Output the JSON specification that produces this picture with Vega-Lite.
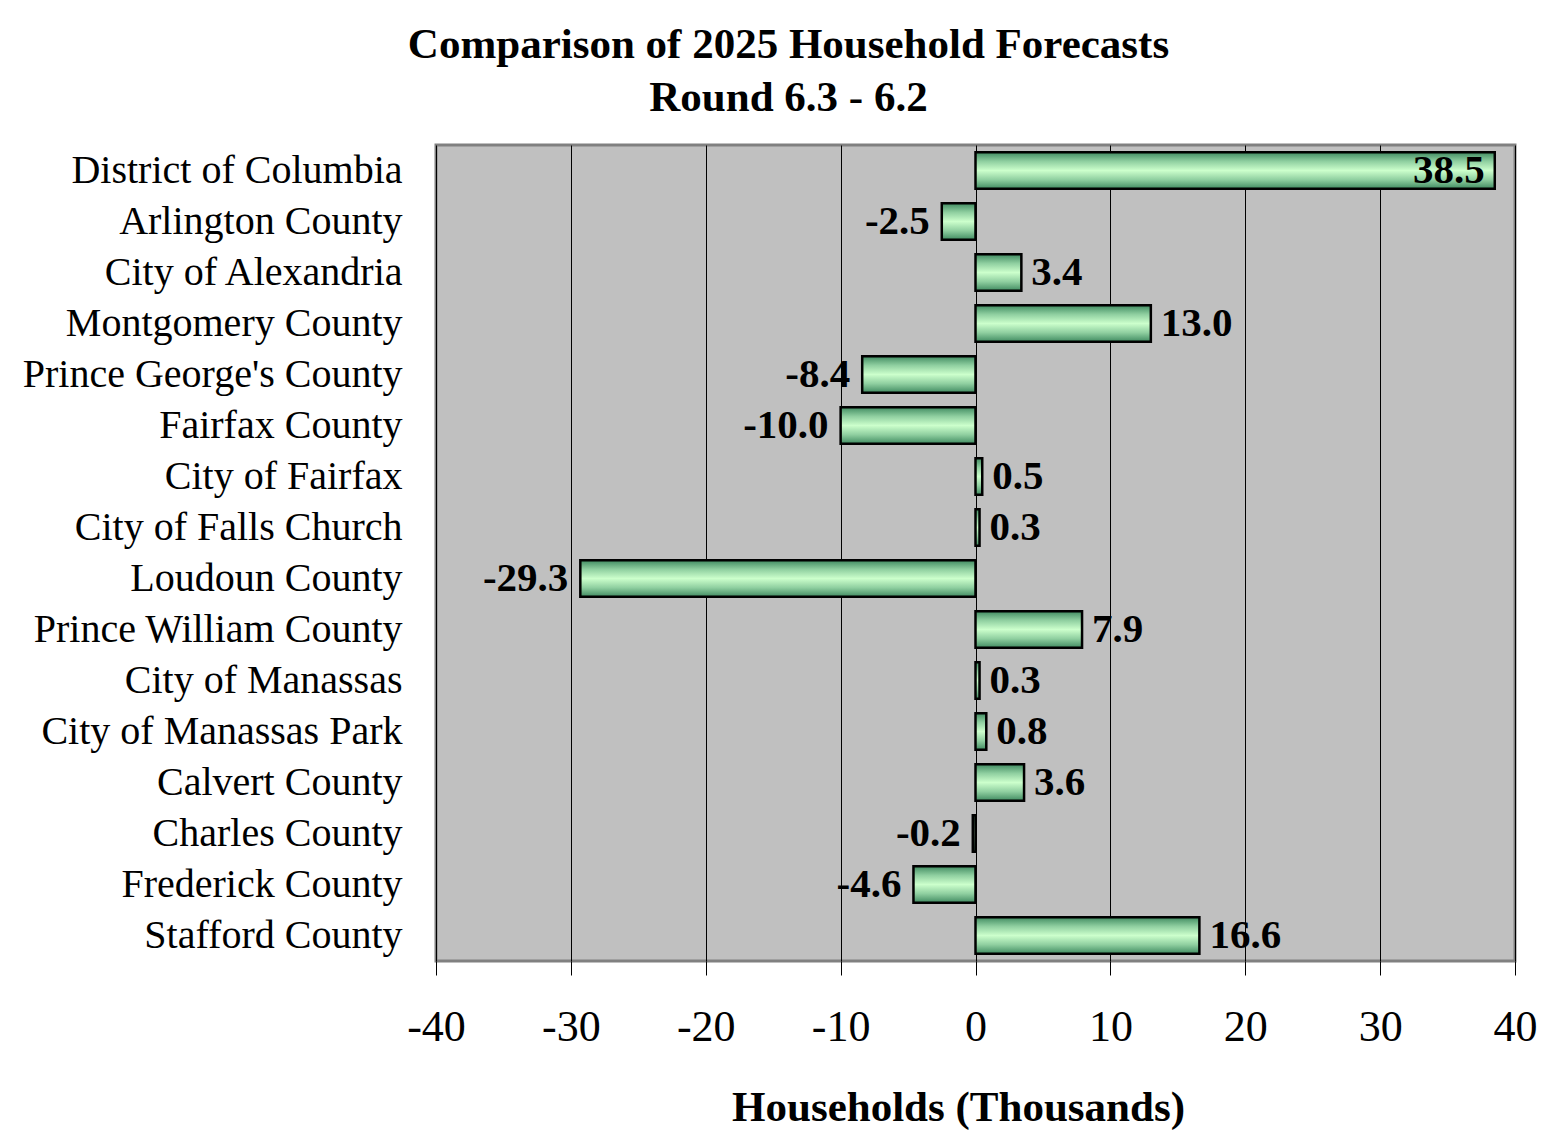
{
  "$schema": "https://vega.github.io/schema/vega-lite/v6.json",
  "autosize": {"type": "none"},
  "width": 1079,
  "height": 816,
  "padding": {"left": 436, "top": 145, "right": 38, "bottom": 185},
  "background": "white",
  "config": {
    "view": {"fill": "#C0C0C0", "stroke": "#808080", "strokeWidth": 3},
    "font": "Liberation Serif",
    "locale": {
      "number": {"decimal": ".", "thousands": ",", "grouping": [3], "currency": ["$", ""], "minus": "-"}
    }
  },
  "title": {
    "text": ["Comparison of 2025 Household Forecasts", "Round 6.3 - 6.2"],
    "font": "Liberation Serif",
    "fontSize": 43,
    "fontWeight": "bold",
    "color": "black",
    "anchor": "middle",
    "frame": "group",
    "dx": -187,
    "lineHeight": 53,
    "offset": 25
  },
  "data": {
    "values": [
      {"jurisdiction": "District of Columbia", "change": 38.5},
      {"jurisdiction": "Arlington County", "change": -2.5},
      {"jurisdiction": "City of Alexandria", "change": 3.4},
      {"jurisdiction": "Montgomery County", "change": 13.0},
      {"jurisdiction": "Prince George's County", "change": -8.4},
      {"jurisdiction": "Fairfax County", "change": -10.0},
      {"jurisdiction": "City of Fairfax", "change": 0.5},
      {"jurisdiction": "City of Falls Church", "change": 0.3},
      {"jurisdiction": "Loudoun County", "change": -29.3},
      {"jurisdiction": "Prince William County", "change": 7.9},
      {"jurisdiction": "City of Manassas", "change": 0.3},
      {"jurisdiction": "City of Manassas Park", "change": 0.8},
      {"jurisdiction": "Calvert County", "change": 3.6},
      {"jurisdiction": "Charles County", "change": -0.2},
      {"jurisdiction": "Frederick County", "change": -4.6},
      {"jurisdiction": "Stafford County", "change": 16.6}
    ]
  },
  "encoding": {
    "y": {
      "field": "jurisdiction",
      "type": "nominal",
      "sort": null,
      "scale": {"paddingInner": 0.28, "paddingOuter": 0.14},
      "axis": {
        "title": null,
        "ticks": false,
        "domain": false,
        "labelPadding": 34,
        "labelLimit": 0,
        "labelFontSize": 40,
        "labelFont": "Liberation Serif",
        "labelColor": "black"
      }
    },
    "x": {
      "field": "change",
      "type": "quantitative",
      "scale": {"domain": [-40, 40], "nice": false, "zero": true},
      "axis": {
        "values": [-40, -30, -20, -10, 0, 10, 20, 30, 40],
        "format": "d",
        "grid": true,
        "gridColor": "black",
        "gridWidth": 1,
        "gridOpacity": 1,
        "domain": false,
        "ticks": true,
        "tickColor": "black",
        "tickSize": 14,
        "tickWidth": 1,
        "labelFontSize": 44,
        "labelFont": "Liberation Serif",
        "labelColor": "black",
        "labelPadding": 30,
        "labelFlush": false,
        "title": "Households (Thousands)",
        "titleFont": "Liberation Serif",
        "titleFontSize": 43,
        "titleFontWeight": "bold",
        "titleColor": "black",
        "titleX": 522,
        "titleY": 159,
        "titleBaseline": "alphabetic",
        "titleAnchor": "middle"
      }
    }
  },
  "layer": [
    {
      "mark": {
        "type": "bar",
        "stroke": "black",
        "strokeWidth": 2.5,
        "color": {
          "gradient": "linear",
          "x1": 0, "y1": 0, "x2": 0, "y2": 1,
          "stops": [
            {"offset": 0, "color": "#3f8a60"},
            {"offset": 0.25, "color": "#8fcfa0"},
            {"offset": 0.5, "color": "#ccffcc"},
            {"offset": 0.75, "color": "#8fcfa0"},
            {"offset": 1, "color": "#3f8a60"}
          ]
        }
      }
    },
    {
      "transform": [{"filter": "datum.change >= 0 && datum.change < 30"}],
      "mark": {"type": "text", "align": "left", "baseline": "middle", "dx": 10, "fontSize": 41, "fontWeight": "bold", "font": "Liberation Serif", "color": "black"},
      "encoding": {"text": {"field": "change", "type": "quantitative", "format": ".1f"}}
    },
    {
      "transform": [{"filter": "datum.change < 0"}],
      "mark": {"type": "text", "align": "right", "baseline": "middle", "dx": -12, "fontSize": 41, "fontWeight": "bold", "font": "Liberation Serif", "color": "black"},
      "encoding": {"text": {"field": "change", "type": "quantitative", "format": ".1f"}}
    },
    {
      "transform": [{"filter": "datum.change >= 30"}],
      "mark": {"type": "text", "align": "right", "baseline": "middle", "dx": -10, "fontSize": 41, "fontWeight": "bold", "font": "Liberation Serif", "color": "black"},
      "encoding": {"text": {"field": "change", "type": "quantitative", "format": ".1f"}}
    }
  ]
}
